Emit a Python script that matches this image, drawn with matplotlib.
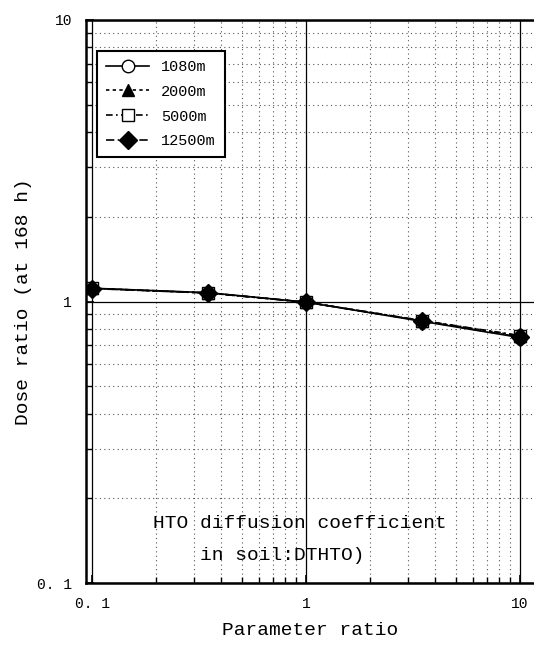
import matplotlib
matplotlib.use("Agg")
import matplotlib.pyplot as plt
from matplotlib.ticker import LogLocator, FixedLocator, FixedFormatter, NullFormatter

plt.rcParams['font.family'] = ['Liberation Mono', 'DejaVu Sans']

# parameter ratio (x) and dose ratio at 168 h for each distance
param_ratio = [0.1, 0.35, 1.0, 3.5, 10.0]
dose_1080 = [1.115, 1.075, 0.995, 0.850, 0.745]
dose_2000 = [1.115, 1.073, 0.995, 0.855, 0.755]
dose_5000 = [1.113, 1.072, 0.995, 0.856, 0.757]
dose_12500 = [1.112, 1.072, 0.995, 0.853, 0.748]

series = [
    ("1080m", dose_1080, '-', 'o', 'white'),
    ("2000m", dose_2000, (0, (2, 2)), '^', 'black'),
    ("5000m", dose_5000, (0, (4, 2, 1, 2)), 's', 'white'),
    ("12500m", dose_12500, (0, (5, 2, 1, 2)), 'D', 'black'),
]

fig = plt.figure(figsize=(5.34, 6.45), dpi=100)
ax = fig.add_axes([0.161, 0.096, 0.839, 0.873])

for label, vals, ls, mk, fc in series:
    ax.plot(param_ratio, vals, linestyle=ls, color='black', linewidth=1.2,
            marker=mk, markersize=9, markerfacecolor=fc, markeredgecolor='black',
            label=label)

ax.set_xscale('log')
ax.set_yscale('log')
ax.set_xlim(0.0937, 11.62)
ax.set_ylim(0.1, 10)

ax.xaxis.set_major_locator(FixedLocator([0.1, 1, 10]))
ax.xaxis.set_major_formatter(FixedFormatter(['0. 1', '1', '10']))
ax.yaxis.set_major_locator(FixedLocator([0.1, 1, 10]))
ax.yaxis.set_major_formatter(FixedFormatter(['0. 1', '1', '10']))
ax.xaxis.set_minor_locator(LogLocator(base=10, subs=range(2, 10)))
ax.yaxis.set_minor_locator(LogLocator(base=10, subs=range(2, 10)))
ax.xaxis.set_minor_formatter(NullFormatter())
ax.yaxis.set_minor_formatter(NullFormatter())

ax.grid(which='major', color='black', linewidth=0.9, linestyle='-')
ax.grid(which='minor', color='#555555', linewidth=0.8, linestyle=(0, (1, 3)))
ax.set_axisbelow(True)

ax.tick_params(which='both', direction='in', top=False, right=False)
ax.tick_params(which='major', length=6, width=1.2, labelsize=10.5, pad=10)
ax.tick_params(which='minor', length=4, width=1.0)
for side in ['left', 'bottom', 'top']:
    ax.spines[side].set_linewidth(1.8)
ax.spines['right'].set_visible(False)

ax.set_xlabel('Parameter ratio', fontsize=14, labelpad=8)
ax.set_ylabel('Dose ratio (at 168 h)', fontsize=14, labelpad=4)

ax.text(0.1496, 0.1066, 'HTO diffusion coefficient',
        transform=ax.transAxes, fontsize=14, ha='left', va='center')
ax.text(0.1496, 0.0497, '    in soil:DTHTO)',
        transform=ax.transAxes, fontsize=14, ha='left', va='center')

leg = ax.legend(loc='upper left', bbox_to_anchor=(0.0246, 0.945), fontsize=11,
                handlelength=2.8, fancybox=False, framealpha=1,
                edgecolor='black', borderpad=0.6, labelspacing=0.7,
                borderaxespad=0)
leg.get_frame().set_linewidth(1.5)

fig.savefig('out.png', dpi=100)
